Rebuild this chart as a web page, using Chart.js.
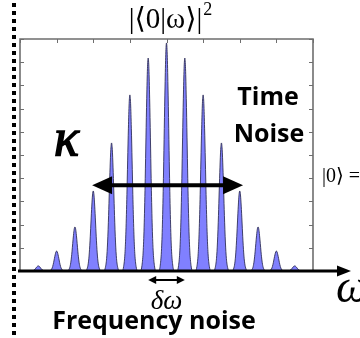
<!DOCTYPE html>
<html><head><meta charset="utf-8">
<script src="https://cdn.jsdelivr.net/npm/chart.js@4"></script>
<style>html,body{margin:0;padding:0;background:#fff;overflow:hidden}canvas{display:block}</style>
</head><body>
<canvas id="c" width="360" height="338"></canvas>
<script>
// ---- data ----
const peakCenters = [-3.5,-3,-2.5,-2,-1.5,-1,-0.5,0,0.5,1,1.5,2,2.5,3,3.5];
const peakHeights = [0.22,0.86,1.9,3.45,5.52,7.59,9.18,9.83,9.18,7.59,5.52,3.45,1.9,0.86,0.22];
// shape of one peak (offset from its centre, fraction of its height)
const profileOffsets   = [-0.21,-0.17,-0.135,-0.108,-0.081,-0.061,-0.04,-0.02,0,0.02,0.04,0.061,0.081,0.108,0.135,0.17,0.21];
const profileFractions = [0,0.026,0.098,0.226,0.434,0.625,0.811,0.95,1,0.95,0.811,0.625,0.434,0.226,0.098,0.026,0];
const xTicks = [-4,-3,-2,-1,0,1,2,3,4];
const yTicks = [0,1,2,3,4,5,6,7,8,9,10];
const kappaSpan = [-2.03, 2.09];
const kappaLevel = 3.7;
const deltaSpan = [-0.5, 0.5];

// build the curve points from the arrays
const points = [{x:-4,y:0}];
peakCenters.forEach((c,i)=>{
  profileOffsets.forEach((o,j)=>points.push({x:c+o, y:peakHeights[i]*profileFractions[j]}));
});
points.push({x:4,y:0});

function arrowHead(ctx, tipX, tipY, dir, len, half){
  ctx.beginPath();
  ctx.moveTo(tipX, tipY);
  ctx.lineTo(tipX - dir*len, tipY - half);
  ctx.lineTo(tipX - dir*len, tipY + half);
  ctx.closePath();
  ctx.fill();
}

const decor = {
  id:'decor',
  afterDraw(chart){
    const ctx = chart.ctx, a = chart.chartArea;
    const xs = chart.scales.x, ys = chart.scales.y;
    ctx.save();
    // dotted vertical line
    ctx.fillStyle = '#000';
    for(let y=3; y<338; y+=8){ ctx.fillRect(12, y, 4, 4); }
    // frame
    ctx.strokeStyle = '#6e6e6e';
    ctx.lineWidth = 1.6;
    ctx.beginPath();
    ctx.moveTo(a.left, a.bottom); ctx.lineTo(a.left, a.top);
    ctx.lineTo(a.right, a.top); ctx.lineTo(a.right, a.bottom);
    ctx.stroke();
    ctx.lineWidth = 1;
    ctx.beginPath();
    yTicks.forEach(v=>{
      const p = Math.round(ys.getPixelForValue(v))+0.5;
      ctx.moveTo(a.left, p); ctx.lineTo(a.left+4, p);
      ctx.moveTo(a.right, p); ctx.lineTo(a.right-4, p);
    });
    xTicks.forEach(v=>{
      const p = Math.round(xs.getPixelForValue(v))+0.5;
      ctx.moveTo(p, a.top); ctx.lineTo(p, a.top+4);
    });
    ctx.stroke();
    // bottom axis arrow
    ctx.strokeStyle = '#000'; ctx.fillStyle = '#000';
    ctx.lineWidth = 3;
    ctx.beginPath(); ctx.moveTo(a.left-2, a.bottom); ctx.lineTo(340, a.bottom); ctx.stroke();
    arrowHead(ctx, 351, a.bottom, 1, 14, 5.5);
    // kappa double arrow
    const ky = ys.getPixelForValue(kappaLevel);
    const kx0 = xs.getPixelForValue(kappaSpan[0]), kx1 = xs.getPixelForValue(kappaSpan[1]);
    ctx.lineWidth = 4;
    ctx.beginPath(); ctx.moveTo(kx0+10, ky); ctx.lineTo(kx1-10, ky); ctx.stroke();
    arrowHead(ctx, kx0, ky, -1, 20, 9);
    arrowHead(ctx, kx1, ky, 1, 20, 9);
    // delta omega arrow
    const dx0 = xs.getPixelForValue(deltaSpan[0]), dx1 = xs.getPixelForValue(deltaSpan[1]);
    const dy = a.bottom + 9;
    ctx.lineWidth = 2;
    ctx.beginPath(); ctx.moveTo(dx0+4, dy); ctx.lineTo(dx1-4, dy); ctx.stroke();
    arrowHead(ctx, dx0, dy, -1, 8, 4);
    arrowHead(ctx, dx1, dy, 1, 8, 4);
    // texts
    ctx.fillStyle = '#000';
    ctx.textBaseline = 'alphabetic';
    ctx.textAlign = 'left';
    ctx.font = "29px 'Liberation Serif', 'DejaVu Serif', serif";
    const t1 = '|\u27E80|\u03C9\u27E9|';
    const w1 = ctx.measureText(t1).width;
    const tx = 171 - (w1+11)/2;
    ctx.fillText(t1, tx, 28);
    ctx.font = "18px 'Liberation Serif', serif";
    ctx.fillText('2', tx + w1 + 1, 15);
    // kappa
    ctx.font = "italic 52px 'Liberation Serif', serif";
    ctx.lineWidth = 1.6; ctx.strokeStyle = '#000';
    ctx.fillText('\u03BA', 54, 155);
    ctx.strokeText('\u03BA', 54, 155);
    // |0> =
    ctx.font = "20px 'Liberation Serif', 'DejaVu Serif', serif";
    ctx.fillText('|0\u27E9 =', 322, 182);
    // omega axis label
    ctx.font = "italic 46px 'Liberation Serif', serif";
    ctx.fillText('\u03C9', 336, 302);
    // delta omega
    ctx.font = "italic 27px 'Liberation Serif', serif";
    ctx.textAlign = 'center';
    ctx.fillText('\u03B4\u03C9', (dx0+dx1)/2, 309);
    // bold sans labels
    ctx.font = "bold 25px 'Open Sans', Lato, sans-serif";
    ctx.fillText('Time', 268, 105);
    ctx.fillText('Noise', 269, 142);
    ctx.font = "bold 25px 'Open Sans', Lato, sans-serif";
    ctx.fillText('Frequency noise', 154, 329);
    ctx.restore();
  }
};

new Chart(document.getElementById('c'), {
  type:'line',
  data:{ datasets:[{
    data: points,
    fill:'origin',
    backgroundColor:'rgb(128,128,255)',
    borderColor:'rgba(40,40,80,0.85)',
    borderWidth:1,
    pointRadius:0,
    cubicInterpolationMode:'monotone'
  }]},
  options:{
    responsive:false,
    animation:false,
    layout:{ padding:{ left:20, top:39, right:47, bottom:67 } },
    plugins:{ legend:{display:false}, tooltip:{enabled:false} },
    scales:{
      x:{ type:'linear', min:-4, max:4, display:false },
      y:{ min:0, max:10, display:false }
    }
  },
  plugins:[decor]
});
</script>
</body></html>
